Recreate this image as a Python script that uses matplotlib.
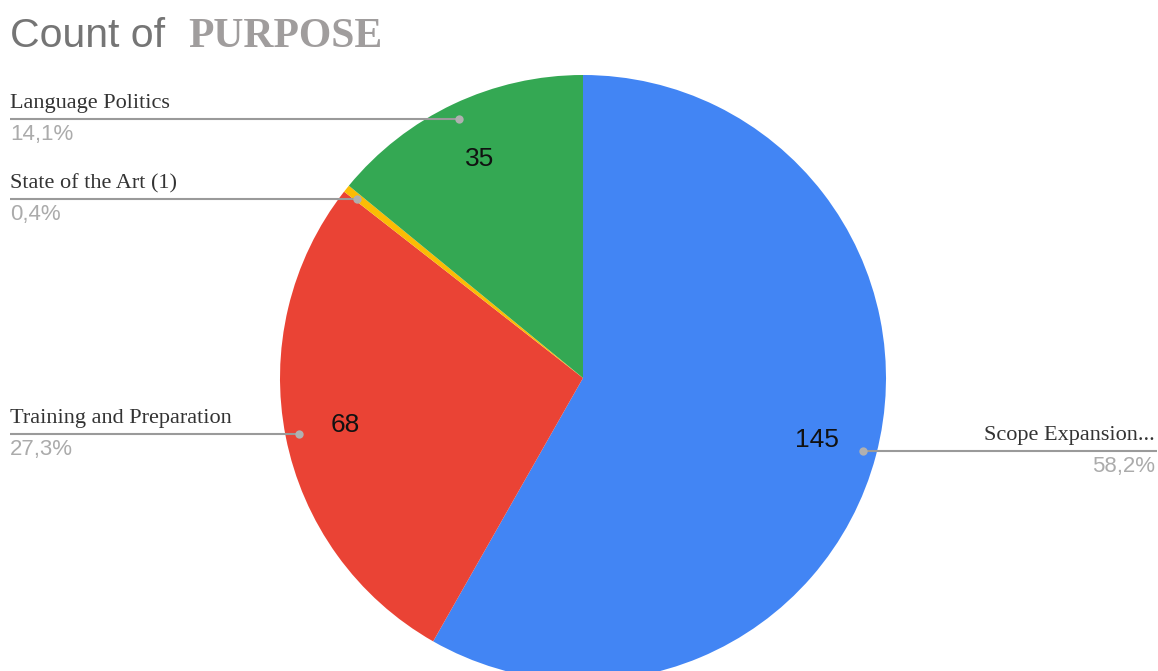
import numpy as np
import matplotlib
matplotlib.use('Agg')
import matplotlib.pyplot as plt

categories = ['Scope Expansion...', 'Training and Preparation', 'State of the Art (1)', 'Language Politics']
counts = [145, 68, 1, 35]
pct_labels = ['58,2%', '27,3%', '0,4%', '14,1%']
colors = ['#4285F4', '#EA4335', '#FBBC04', '#34A853']

W, H = 1158, 671
fig = plt.figure(figsize=(W / 100, H / 100), dpi=100)
ax = fig.add_axes([0, 0, 1, 1])
cx, cy, R = 583, H - 378, 303
total = sum(counts)


def fmt(p):
    v = int(round(p * total / 100))
    return str(v) if p > 2 else ''


wedges, texts, autotexts = ax.pie(
    counts, colors=colors, startangle=90, counterclock=False,
    center=(cx, cy), radius=R, autopct=fmt, pctdistance=0.8,
    wedgeprops=dict(linewidth=0),
    textprops=dict(fontsize=19, color='#111111', family='Liberation Sans'))
ax.set_xlim(0, W)
ax.set_ylim(0, H)
ax.set_aspect('equal')
ax.axis('off')

for w, cat, pl in zip(wedges, categories, pct_labels):
    mid = np.deg2rad((w.theta1 + w.theta2) / 2)
    dx = cx + 0.955 * R * np.cos(mid)
    dy = cy + 0.945 * R * np.sin(mid)
    if np.cos(mid) < 0:
        x0, x1, tx, ha = 10, dx, 10, 'left'
    else:
        x0, x1, tx, ha = dx, W - 1, W - 3, 'right'
    ax.plot([x0, x1], [dy, dy], color='#9a9a9a', lw=1.5, solid_capstyle='butt', zorder=3)
    ax.plot([dx], [dy], 'o', color='#b0b0b0', ms=6, mec='none', zorder=4)
    ax.text(tx, dy + 6, cat, ha=ha, va='bottom', fontsize=16, color='#333333',
            family='Liberation Serif')
    ax.text(tx, dy - 5, pl, ha=ha, va='top', fontsize=16, color='#ababab',
            family='Liberation Sans')

fig.text(10 / W, 1 - 47 / H, 'Count of', va='baseline', ha='left', fontsize=29.5,
         color='#757575', family='Liberation Sans')
fig.text(188 / W, 1 - 47 / H, 'PURPOSE', va='baseline', ha='left', fontsize=30,
         color='#a09d9d', family='Liberation Serif', fontweight='bold')

fig.savefig('out.png', dpi=100, facecolor='white')
